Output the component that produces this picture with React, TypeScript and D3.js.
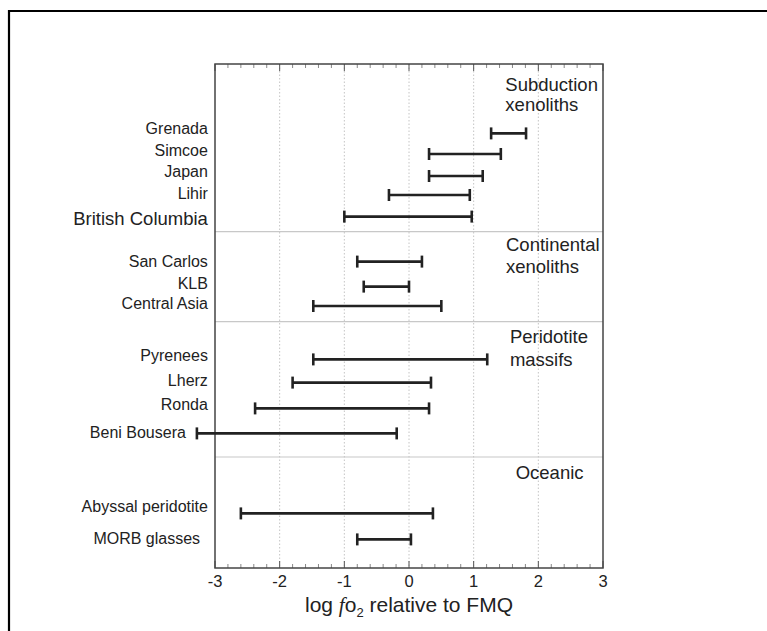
import React from "react";
import * as d3 from "d3";

// ---- data ----
const sites = [
  "Grenada", "Simcoe", "Japan", "Lihir", "British Columbia",
  "San Carlos", "KLB", "Central Asia",
  "Pyrenees", "Lherz", "Ronda", "Beni Bousera",
  "Abyssal peridotite", "MORB glasses",
];
const minFO2 = [1.27, 0.31, 0.31, -0.31, -1.0, -0.8, -0.7, -1.48, -1.48, -1.8, -2.38, -3.28, -2.6, -0.8];
const maxFO2 = [1.81, 1.42, 1.14, 0.94, 0.97, 0.2, 0.0, 0.5, 1.21, 0.34, 0.31, -0.19, 0.37, 0.03];
// vertical position of each range bar (row units from top of the plot)
const barRow = [3.47, 4.5, 5.6, 6.55, 7.63, 9.88, 11.13, 12.1, 14.77, 15.93, 17.22, 18.47, 22.47, 23.77];
// vertical position of each site label (row units)
const labelRow = [3.2, 4.3, 5.38, 6.45, 7.75, 9.88, 10.95, 11.95, 14.55, 15.83, 17.0, 18.4, 22.13, 23.7];
// right end of each site label (log fO2 units)
const labelEnd = [-3.11, -3.11, -3.11, -3.11, -3.11, -3.11, -3.11, -3.11, -3.11, -3.11, -3.11, -3.45, -3.11, -3.23];
const labelBig = [false, false, false, false, true, false, false, false, false, false, false, false, false, false];

const groupLines = [["Subduction", "xenoliths"], ["Continental", "xenoliths"], ["Peridotite", "massifs"], ["Oceanic"]];
const groupX = [1.49, 1.5, 1.56, 1.65];
const groupRow = [[1.05, 2.05], [9.05, 10.13], [13.63, 14.8], [20.43]];
const separatorRows = [8.38, 12.88, 19.65];

const xTicks = [-3, -2, -1, 0, 1, 2, 3];
const xDomain: [number, number] = [-3, 3];
const rowDomain: [number, number] = [0, 25.2];

export default function App() {
  const W = 767, H = 631;
  const left = 215, right = 603, top = 64, bottom = 568;
  const x = d3.scaleLinear().domain(xDomain).range([left, right]);
  const y = d3.scaleLinear().domain(rowDomain).range([top, bottom]);
  const minorTicks = d3.range(-3, 3.0001, 0.2).map((v) => Math.round(v * 10) / 10);
  const font = "'Liberation Sans', Arial, sans-serif";
  const dark = "#222";
  const cap = 6;

  return (
    <svg width={W} height={H} style={{ position: "absolute", left: 0, top: 0, background: "#fff" }} fontFamily={font}>
      {/* outer frame */}
      <path d={`M9,${H + 5}V11H${W + 5}`} fill="none" stroke="#000" strokeWidth={2.2} />

      {/* grid */}
      {xTicks.slice(1, -1).map((t) => (
        <line key={"g" + t} x1={x(t)} x2={x(t)} y1={top} y2={bottom} stroke="#c4c4c4" strokeWidth={1} strokeDasharray="1.5,2" />
      ))}
      {separatorRows.map((r, i) => (
        <line key={"s" + i} x1={left} x2={right} y1={y(r)} y2={y(r)} stroke="#c8c8c8" strokeWidth={1.2} />
      ))}

      {/* ticks */}
      {minorTicks.map((t) => {
        const major = Number.isInteger(t);
        const len = major ? 7 : 4;
        return (
          <g key={"t" + t} stroke={major ? "#555" : "#888"} strokeWidth={1}>
            <line x1={x(t)} x2={x(t)} y1={bottom} y2={bottom - len} />
            <line x1={x(t)} x2={x(t)} y1={top} y2={top + len} />
          </g>
        );
      })}

      {/* plot frame */}
      <rect x={left} y={top} width={right - left} height={bottom - top} fill="none" stroke="#444" strokeWidth={1.5} />

      {/* range bars */}
      {sites.map((s, i) => {
        const yy = y(barRow[i]);
        const x0 = x(minFO2[i]);
        const x1 = x(maxFO2[i]);
        return (
          <g key={"b" + s} stroke={dark} strokeWidth={2.6}>
            <line x1={x0} x2={x1} y1={yy} y2={yy} />
            <line x1={x0} x2={x0} y1={yy - cap} y2={yy + cap} />
            <line x1={x1} x2={x1} y1={yy - cap} y2={yy + cap} />
          </g>
        );
      })}

      {/* site labels */}
      {sites.map((s, i) => (
        <text key={"l" + s} x={x(labelEnd[i])} y={y(labelRow[i])} dy="0.35em" textAnchor="end"
          fontSize={labelBig[i] ? 18.5 : 16} fill={dark}>{s}</text>
      ))}

      {/* group labels */}
      {groupLines.map((lines, gi) => (
        <g key={"grp" + gi}>
          {lines.map((ln, li) => (
            <text key={ln} x={x(groupX[gi])} y={y(groupRow[gi][li])} dy="0.35em" fontSize={18.5} fill={dark}>{ln}</text>
          ))}
        </g>
      ))}

      {/* tick labels */}
      {xTicks.map((t) => (
        <text key={"tl" + t} x={x(t)} y={bottom + 13} dy="0.35em" textAnchor="middle" fontSize={16.5} fill={dark}>{t}</text>
      ))}

      {/* axis title */}
      <text x={(left + right) / 2} y={605} dy="0.35em" textAnchor="middle" fontSize={21} fill={dark}>
        log <tspan fontFamily="'Liberation Serif', 'DejaVu Serif', serif" fontStyle="italic">f</tspan>o
        <tspan fontSize={13} dy="5">2</tspan>
        <tspan dy="-5"> relative to FMQ</tspan>
      </text>
    </svg>
  );
}
